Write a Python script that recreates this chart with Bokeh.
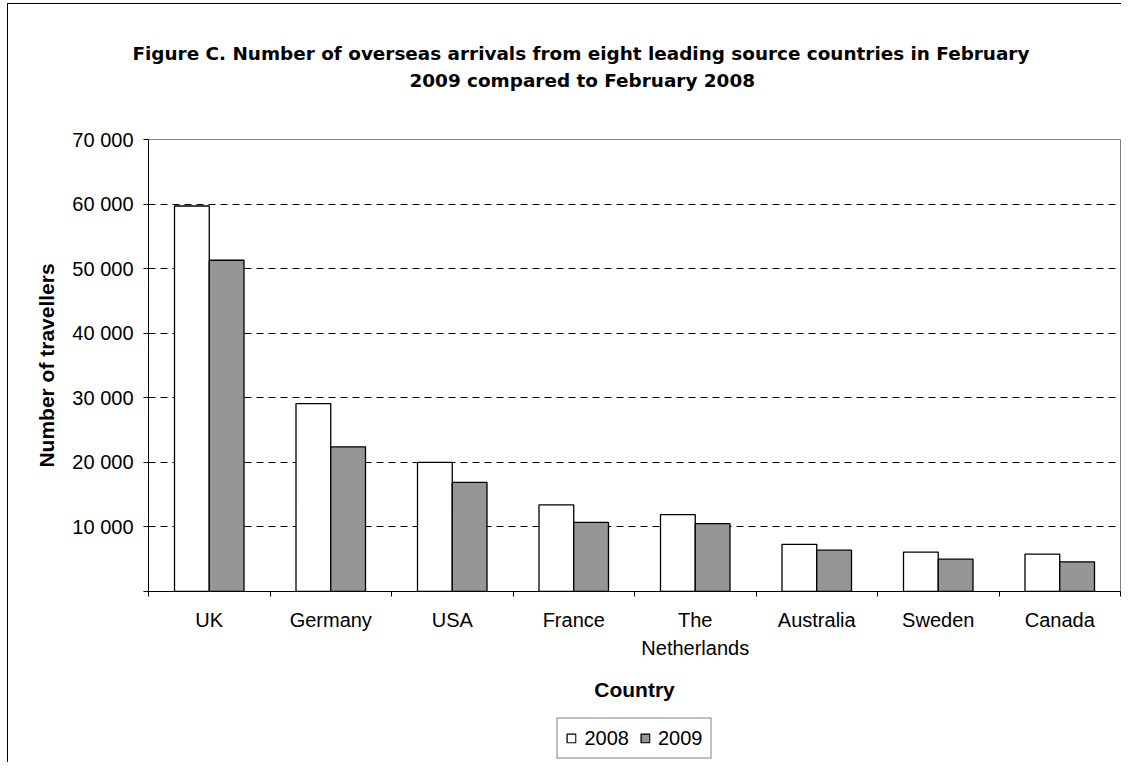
import numpy as np
from bokeh.plotting import figure
from bokeh.layouts import column
from bokeh.models import (FixedTicker, Range1d, Legend, LegendItem, Title,
                          ColumnDataSource)
from bokeh.embed import file_html
from bokeh.resources import INLINE

# ---- data -------------------------------------------------------------
countries = ["UK", "Germany", "USA", "France", "The Netherlands",
             "Australia", "Sweden", "Canada"]
country_labels = ["UK", "Germany", "USA", "France", "The\nNetherlands",
                  "Australia", "Sweden", "Canada"]
arrivals_2008 = [59700, 29100, 20000, 13400, 11900, 7300, 6100, 5800]
arrivals_2009 = [51300, 22400, 16900, 10700, 10500, 6400, 5000, 4600]
series = ["2008", "2009"]
series_colors = ["#FFFFFF", "#969696"]
y_ticks = [0, 10000, 20000, 30000, 40000, 50000, 60000, 70000]
y_tick_labels = ["", "10 000", "20 000", "30 000", "40 000", "50 000",
                 "60 000", "70 000"]
title_line1 = "Figure C. Number of overseas arrivals from eight leading source countries in February"
title_line2 = "2009 compared to February 2008"
x_title = "Country"
y_title = "Number of travellers"

FONT = "Liberation Sans"
TITLE_FONT = "DejaVu Sans"

n = len(countries)
centers = np.arange(n) + 0.5
bar_w = 0.286

W = 1121
p = figure(width=W, height=713, output_backend="svg", toolbar_location=None,
           x_range=Range1d(0, n), y_range=Range1d(0, 70000),
           min_border_left=148, min_border_right=1, min_border_top=139,
           min_border_bottom=122, background_fill_color="white",
           border_fill_alpha=0)
p.outline_line_color = "#808080"
p.outline_line_width = 1

src = ColumnDataSource(dict(
    country=countries,
    x08=centers - bar_w / 2,
    x09=centers + bar_w / 2,
    v08=arrivals_2008,
    v09=arrivals_2009,
))

bar_style = dict(width=bar_w, line_color="black", line_width=1.3)
p.vbar(x="x08", top="v08", source=src, fill_color=series_colors[0], **bar_style)
p.vbar(x="x09", top="v09", source=src, fill_color=series_colors[1], **bar_style)

# ---- grid -------------------------------------------------------------
p.xgrid.visible = False
p.ygrid.ticker = FixedTicker(ticks=y_ticks[1:-1])
p.ygrid.grid_line_color = "black"
p.ygrid.grid_line_dash = "7 5"
p.ygrid.grid_line_width = 1

# ---- y axis -----------------------------------------------------------
ya = p.yaxis[0]
ya.ticker = FixedTicker(ticks=y_ticks, minor_ticks=[])
ya.major_label_overrides = {t: lab for t, lab in zip(y_ticks, y_tick_labels)}
ya.major_tick_out = 5
ya.major_tick_in = 0
ya.minor_tick_out = 0
ya.minor_tick_in = 0
ya.axis_line_color = "black"
ya.major_tick_line_color = "black"
ya.major_label_text_font = FONT
ya.major_label_text_font_size = "20px"
ya.major_label_text_color = "black"
ya.major_label_standoff = 10
ya.axis_label = y_title
ya.axis_label_text_font = FONT
ya.axis_label_text_font_size = "21px"
ya.axis_label_text_font_style = "bold"
ya.axis_label_text_color = "black"
ya.axis_label_standoff = 11

# ---- x axis -----------------------------------------------------------
xa = p.xaxis[0]
xa.ticker = FixedTicker(ticks=list(centers), minor_ticks=list(range(n + 1)))
xa.major_label_overrides = {float(c): lab for c, lab in zip(centers, country_labels)}
xa.major_tick_out = 0
xa.major_tick_in = 0
xa.minor_tick_out = 5
xa.minor_tick_in = 0
xa.minor_tick_line_color = "black"
xa.axis_line_color = "black"
xa.major_label_text_font = FONT
xa.major_label_text_font_size = "20px"
xa.major_label_text_color = "black"
xa.major_label_text_line_height = 1.3
xa.major_label_standoff = 12
xa.axis_label = x_title
xa.axis_label_text_font = FONT
xa.axis_label_text_font_size = "21px"
xa.axis_label_text_font_style = "bold"
xa.axis_label_text_color = "black"
xa.axis_label_standoff = 16

# ---- title (two lines) in the top panel --------------------------------
def blank(standoff):
    return Title(text=" ", text_font_size="1px", standoff=standoff)

t2 = Title(text=title_line2, align="left", offset=261, standoff=4,
           text_font=TITLE_FONT, text_font_size="18.4px", text_font_style="bold",
           text_color="black")
t1 = Title(text=title_line1, align="left", offset=-16, standoff=4,
           text_font=TITLE_FONT, text_font_size="18.4px", text_font_style="bold",
           text_color="black")
p.add_layout(blank(44), "above")   # gap between title and plot area
p.add_layout(t2, "above")
p.add_layout(t1, "above")
p.add_layout(blank(32), "above")   # gap above title

# ---- legend strip under the chart --------------------------------------
pl = figure(width=W, height=49, output_backend="svg", toolbar_location=None,
            x_range=Range1d(0, 1), y_range=Range1d(0, 1),
            x_axis_location=None, y_axis_location=None,
            min_border_left=148, min_border_right=1, min_border_top=0,
            min_border_bottom=0, background_fill_alpha=0,
            border_fill_alpha=0)
pl.outline_line_color = None
pl.xgrid.visible = False
pl.ygrid.visible = False
# hidden twins of the bar renderers: they only give the legend its swatches
k08 = pl.vbar(x="x08", top="v08", source=src, fill_color=series_colors[0],
              visible=False, **bar_style)
k09 = pl.vbar(x="x09", top="v09", source=src, fill_color=series_colors[1],
              visible=False, **bar_style)

legend = Legend(items=[LegendItem(label=series[0], renderers=[k08]),
                       LegendItem(label=series[1], renderers=[k09])],
                orientation="horizontal", location="center",
                border_line_color="black", border_line_width=1,
                background_fill_color="white", background_fill_alpha=1,
                inactive_fill_alpha=0,
                padding=8, spacing=10, label_standoff=8,
                glyph_width=11, glyph_height=11, margin=0,
                label_text_font=FONT, label_text_font_size="20px",
                label_text_color="black")
pl.add_layout(legend, "center")

# chart-area border (left and top edges) drawn as a page background
frame_bg = ("linear-gradient(#000, #000) 7px 3px / 1px 100% no-repeat, "
            "linear-gradient(#000, #000) 7px 3px / 100% 1px no-repeat, #fff")
layout = column(p, pl, spacing=0, styles={"background": frame_bg})

open("out.html", "w").write(file_html(layout, INLINE))
